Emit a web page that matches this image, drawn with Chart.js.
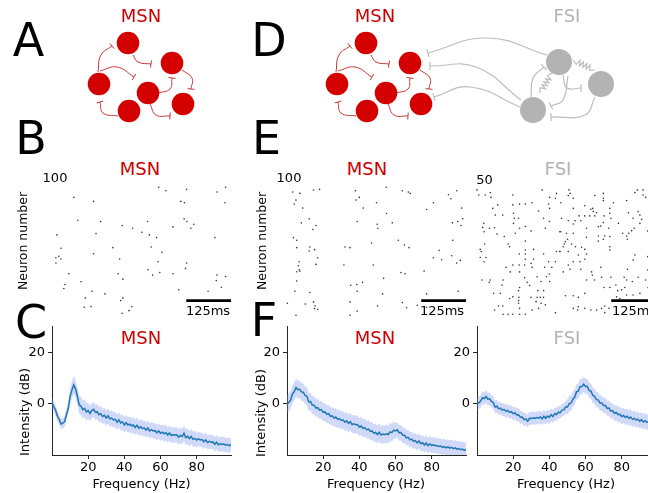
<!DOCTYPE html>
<html><head><meta charset="utf-8">
<script src="https://cdn.jsdelivr.net/npm/chart.js@4.4.1/dist/chart.umd.min.js"></script>
<style>
html,body{margin:0;padding:0;background:#fff;}
#fig{position:relative;width:648px;height:493px;overflow:hidden;font-family:'DejaVu Sans',sans-serif;background:#fff;}
#fig canvas{position:absolute;}
.t{position:absolute;white-space:nowrap;line-height:1;transform:translate(-50%,-50%);}
.tl{position:absolute;white-space:nowrap;line-height:1;transform:translate(0,-50%);}
</style></head><body><div id="fig"></div>
<script>
// ---------------- DATA ----------------
const freqHz = [0,1,2,3,4,5,6,7,8,9,10,11,12,13,14,15,16,17,18,19,20,21,22,23,24,25,26,27,28,29,30,31,32,33,34,35,36,37,38,39,40,41,42,43,44,45,46,47,48,49,50,51,52,53,54,55,56,57,58,59,60,61,62,63,64,65,66,67,68,69,70,71,72,73,74,75,76,77,78,79,80,81,82,83,84,85,86,87,88,89,90,91,92,93,94,95,96,97,98,99];
const freqTicks = [20,40,60,80];
const dbTicks = [0,20];

// panel C: MSN alone (dB)
const psdMsnAlone = [
0.5,-1.2,-2.6,-4.9,-6.1,-7.9,-7.6,-7.0,-4.2,-1.8,
2.9,5.3,7.4,5.8,3.1,-0.4,-0.9,-2.3,-1.8,-3.2,
-2.7,-3.8,-2.7,-2.2,-3.3,-3.2,-4.3,-3.9,-5.0,-4.5,
-5.6,-4.7,-5.9,-5.6,-6.3,-6.1,-7.2,-6.3,-7.5,-7.1,
-8.3,-7.4,-8.3,-8.0,-8.6,-8.3,-9.3,-8.4,-9.5,-9.0,
-9.7,-9.4,-10.3,-9.5,-10.6,-10.1,-10.6,-10.5,-11.3,-10.6,
-11.5,-11.1,-11.7,-11.3,-12.2,-11.4,-12.4,-12.0,-12.3,-12.1,
-13.0,-12.4,-12.8,-11.5,-13.2,-12.7,-13.6,-12.8,-13.9,-13.5,
-14.2,-13.7,-14.1,-14.0,-14.9,-14.1,-15.1,-14.7,-15.0,-14.9,
-15.8,-15.0,-16.0,-15.6,-15.9,-15.7,-16.1,-15.9,-16.4,-15.8];
const sdMsnAlone = [2.0,3.5,3.0,3.0,3.0,3.0,3.0,3.0,2.8,2.8];   // per 10 Hz bin

// panel F: MSN with FSI (dB)
const psdMsnNet = [
-0.2,0.5,1.5,3.8,4.7,6.3,5.5,5.6,4.6,4.5,
3.2,2.9,0.7,0.9,-0.5,-0.6,-1.7,-1.5,-2.5,-2.3,
-3.3,-3.2,-4.1,-3.9,-4.9,-4.7,-5.6,-5.2,-6.1,-5.8,
-6.5,-6.3,-7.2,-6.7,-7.7,-7.0,-8.1,-7.8,-8.2,-8.1,
-9.1,-8.7,-9.6,-9.3,-10.2,-9.8,-10.7,-10.6,-11.5,-11.2,
-12.0,-11.1,-12.2,-11.8,-12.1,-11.7,-12.0,-11.0,-11.3,-10.3,
-10.6,-10.2,-11.3,-11.2,-12.3,-12.3,-13.3,-13.1,-14.1,-13.8,
-14.7,-14.4,-15.3,-14.5,-15.6,-15.2,-16.1,-15.3,-16.4,-15.6,
-16.3,-16.0,-16.4,-16.3,-16.7,-16.5,-17.0,-16.7,-17.2,-16.8,
-17.3,-17.0,-17.5,-17.2,-17.7,-17.5,-17.9,-17.7,-18.2,-17.8];
const sdMsnNet = [3.5,3.5,3.5,3.5,3.5,3.5,3.0,3.0,3.0,3.0];

// panel F: FSI (dB)
const psdFsiNet = [
-0.1,0.3,1.0,2.3,2.0,2.8,1.8,1.9,0.9,0.5,
-1.3,-1.0,-2.0,-1.7,-2.5,-2.2,-3.0,-2.6,-3.4,-3.1,
-3.9,-3.6,-4.4,-4.3,-5.3,-5.2,-6.2,-5.9,-6.8,-5.7,
-5.8,-5.5,-5.7,-5.4,-5.6,-5.2,-5.9,-4.9,-5.7,-4.8,
-5.3,-4.3,-5.0,-3.9,-4.2,-3.3,-3.5,-2.5,-2.4,-1.3,
-1.3,0.0,0.2,1.8,2.5,4.6,4.9,6.6,6.7,7.6,
6.7,6.8,5.2,4.9,3.3,2.9,1.6,1.5,0.3,0.3,
-0.7,-0.7,-1.8,-1.7,-2.9,-2.7,-3.7,-3.4,-4.3,-4.1,
-5.0,-4.6,-5.3,-4.9,-5.7,-5.2,-6.1,-5.7,-6.4,-6.0,
-6.8,-6.3,-7.1,-6.6,-7.3,-6.9,-7.4,-7.0,-7.5,-7.1];
const sdFsiNet = [2.5,2.5,2.5,2.5,2.5,3.0,3.0,3.0,3.0,3.0];

// rasters: [time ms, neuron index]
const spikesMsnAlone = [
[298,97.5],[318,95],[376,96],[485,97.5],[461,94],[61,90],[116,87],[360,87],[370,86],[483,86],
[72,73],[136,72],[196,69],[225,67],[267,72],[251,64],[272,62],[292,60],[369,74],[377,72],
[396,70],[388,67],[338,68],[455,60],[14,62],[123,63],[25,52],[170,52.5],[277,53],[307,49],
[11,45],[19,46],[25,44],[11,41],[116,48],[189,44],[296,42],[376,41],[373,37],[268,36],
[281,32],[301,34],[338,33],[47,33],[185,33],[198,29],[81,27],[36,25],[33,22],[112,20],
[148,18],[93,15],[198,15],[192,13],[90,8],[109,8.5],[223,8.5],[215,5.5],[196,3.5],[354,21],
[436,20],[461,32],[485,31],[459,28],[473,23]];
const spikesMsnNet = [
[16,94],[36,93],[74,95.5],[91,96],[25,88],[20,85],[44,82],[191,95],[202,90],[193,88],
[213,82],[250,86],[277,97.5],[322,95],[339,94],[344,93],[278,78],[390,81],[409,86],[451,92],
[458,89],[474,95],[488,82],[62,74],[40,71],[81,69],[72,66],[196,72],[252,70],[254,67],
[294,71],[462,71],[477,72],[491,74],[486,69],[18,60],[27,58],[27,52.5],[64,53],[77,51],
[62,50],[162,53],[176,52.5],[236,56],[311,58],[328,54.5],[341,52.5],[463,58],[425,50.5],[460,46.5],
[409,45],[432,43.5],[484,43],[474,41],[86,45],[81,40],[34,42],[32,39],[34,36],[27,34.5],
[36,35],[159,39.5],[241,39.5],[318,34],[330,33],[383,35],[27,27.6],[22,20],[64,19],[1,11],
[51,10.5],[74,12],[79,9],[86,6.5],[77,7],[25,2],[178,24.4],[195,25],[211,26.6],[270,29.6],
[196,20],[267,18],[176,12],[196,5],[176,2],[253,9],[322,11.5],[334,7.7],[390,18],[478,20],
[364,9.5],[390,8],[480,7.5]];
const spikesFsiNet = [
[0,47.8],[5,45.9],[23,45.9],[37,46.8],[39,45.0],[100,45.9],[182,47.8],[203,45.0],[222,46.5],[219,44.7],
[58,42.2],[44,40.9],[100,42.2],[119,42.5],[135,42.5],[154,43.0],[200,42.5],[203,40.9],[172,39.9],[51,38.4],
[72,38.4],[102,39.1],[104,37.2],[116,37.2],[186,37.2],[202,36.0],[19,35.3],[16,33.8],[35,33.5],[49,33.7],
[20,32.2],[102,35.3],[119,33.5],[135,34.1],[151,32.5],[191,33.5],[231,32.2],[56,31.3],[76,30.4],[107,31.6],
[21,27.6],[87,27.6],[91,26.6],[135,28.7],[9,25.6],[12,24.8],[158,25.6],[135,25.4],[222,24.8],[231,24.8],
[186,23.9],[118,23.9],[135,23.9],[9,22.6],[25,22.6],[20,21.0],[135,21.9],[158,21.9],[151,20.4],[200,21.0],
[219,21.0],[100,19.8],[118,19.8],[133,19.8],[81,18.9],[154,18.9],[189,18.9],[209,18.9],[93,17.2],[119,17.2],
[202,16.4],[194,15.4],[133,15.0],[168,15.4],[14,14.2],[37,14.2],[34,13.3],[73,14.2],[179,13.6],[203,13.6],
[140,13.3],[70,12.3],[147,12.1],[119,11.4],[116,10.2],[46,9.2],[65,9.2],[170,10.2],[186,10.2],[100,7.9],
[91,7.3],[117,7.7],[151,7.7],[168,7.7],[177,7.7],[186,7.7],[116,6.5],[116,5.5],[165,6.1],[179,5.5],
[191,4.9],[60,4.5],[72,4.5],[49,3.0],[119,3.6],[154,3.0],[172,3.6],[73,1.4],[87,1.4],[100,1.4],
[119,1.4],[135,1.4],[219,2.0],
[257,47.8],[260,46.5],[255,45.7],[269,44.7],[329,45.7],[353,46.5],[353,44.7],[353,43.8],[418,43.8],[441,46.8],
[448,47.8],[464,47.8],[464,45.9],[471,45.0],[234,43.0],[301,41.9],[269,40.9],[318,40.6],[325,39.7],[323,40.9],
[334,39.3],[371,40.9],[371,39.1],[381,43.0],[423,39.3],[450,39.7],[455,38.4],[285,38.1],[301,38.1],[315,38.1],
[355,38.1],[374,37.2],[436,37.2],[329,38.1],[236,37.2],[255,36.3],[274,36.3],[290,36.3],[269,35.1],[353,35.6],
[346,34.3],[395,35.3],[455,35.3],[460,36.8],[306,33.5],[339,34.1],[368,33.5],[439,33.5],[424,31.6],[477,32.5],
[234,32.2],[250,31.6],[269,31.6],[306,30.1],[339,30.6],[357,30.6],[371,30.4],[407,31.6],[418,30.6],[420,29.4],
[432,32.6],[253,29.4],[247,28.5],[244,27.6],[241,26.6],[264,27.6],[275,26.6],[292,26.4],[255,24.8],[339,28.7],
[353,29.4],[371,26.6],[371,25.4],[232,24.8],[283,23.5],[301,25.6],[306,23.9],[441,23.5],[436,21.6],[477,22.9],
[269,21.0],[288,21.0],[301,21.9],[255,19.8],[260,18.2],[241,17.2],[290,18.2],[346,18.9],[320,17.2],[322,16.0],
[420,18.2],[477,17.9],[306,14.2],[328,14.2],[348,15.2],[374,15.2],[411,15.2],[418,14.2],[434,13.6],[450,15.2],
[471,14.2],[355,11.4],[371,11.4],[388,12.3],[393,10.2],[404,10.5],[413,11.4],[478,11.4],[247,8.3],[269,8.3],
[283,7.7],[301,9.2],[390,7.9],[399,7.3],[418,8.6],[436,8.6],[455,9.2],[269,3.6],[283,4.2],[281,3.0],
[301,3.6],[318,3.0],[334,3.0],[348,3.6],[357,4.5],[357,2.0],[369,3.6]];
const rasterMs = [0,500];
const scaleBarMs = [375,500];
const msnCount = 100, fsiCount = 50;

// network diagrams (diagram space)
const msnNodes = [[128,43],[172,63],[99,84],[148,93],[183,104],[129,111]];
const msnArcs = [
 [[98,72],[101,55],[112,46]],
 [[133,55],[138,62],[151,64]],
 [[100,71],[117,67],[134,77]],
 [[158,93],[170,89],[172,78]],
 [[182,70],[192,78],[191,89]],
 [[118,116],[103,113],[100,102]],
 [[150,104],[156,115],[170,116]]];
const netShiftD = 238;
const fsiNodes = [[559,62],[601,84],[533,110]];
const fsiArcs = [
 [[547,55],[487,38],[428,53]],
 [[521,100],[476,67],[430,66]],
 [[520,107],[470,87],[434,97]],
 [[531,97],[533,78],[544,67]],
 [[563,75],[567,88],[581,88]],
 [[568,76],[563,100],[551,106]],
 [[595,97],[585,115],[551,117]]];
const gapJunctions = [[[573,60],[595,70]],[[552,73],[540,93]]];

// ---------------- STYLE ----------------
const RED = '#d40000', RED_T = '#cc0000', RED_ARC = '#c83737';
const GRAY = '#b3b3b3', GRAY_ARC = '#bdbdbd';
const BLUE = '#1f77b4', BAND = 'rgba(120,150,235,0.35)';
const fig = document.getElementById('fig');
Chart.defaults.font.family = "'DejaVu Sans', sans-serif";

function text(str, x, y, size, color, opts={}) {
  const d = document.createElement('div');
  d.className = opts.left ? 'tl' : 't';
  d.textContent = str;
  d.style.left = x + 'px'; d.style.top = y + 'px';
  d.style.fontSize = size + 'px'; d.style.color = color || '#000';
  if (opts.rot) d.style.transform = 'translate(-50%,-50%) rotate(-90deg)';
  fig.appendChild(d);
}
function makeCanvas(left, top, w, h) {
  const c = document.createElement('canvas');
  c.width = w; c.height = h;
  c.style.left = left + 'px'; c.style.top = top + 'px';
  c.style.width = w + 'px'; c.style.height = h + 'px';
  fig.appendChild(c);
  return c;
}
const baseOpts = {responsive:false, animation:false, events:[], devicePixelRatio:1,
  plugins:{legend:{display:false}, tooltip:{enabled:false}}};

// ---------------- NETWORK DIAGRAMS ----------------
(function(){
  const cv = makeCanvas(0, 0, 648, 132);
  const ds = [];
  const P = a => ({x:a[0], y:a[1]});
  function arc(path, color, w, half, dx) {
    const pts = path.map(p => ({x:p[0]+dx, y:p[1]}));
    ds.push({data:pts, showLine:true, tension:0.45, borderColor:color, borderWidth:w, pointRadius:0, order:2, clip:false});
    const a = pts[pts.length-2], b = pts[pts.length-1];
    const L = Math.hypot(b.x-a.x, b.y-a.y), px = -(b.y-a.y)/L*half, py = (b.x-a.x)/L*half;
    ds.push({data:[{x:b.x+px,y:b.y+py},{x:b.x-px,y:b.y-py}], showLine:true, tension:0, borderColor:color, borderWidth:w, pointRadius:0, order:2, clip:false});
  }
  function spring(p, q, n, amp) {
    const dx=q[0]-p[0], dy=q[1]-p[1], L=Math.hypot(dx,dy), nx=-dy/L, ny=dx/L;
    const pts=[{x:p[0],y:p[1]}];
    for (let i=1;i<2*n;i++){ const t=0.12+0.76*i/(2*n); const s=(i%2?amp:-amp); pts.push({x:p[0]+dx*t+nx*s, y:p[1]+dy*t+ny*s}); }
    pts.push({x:q[0],y:q[1]});
    ds.push({data:pts, showLine:true, tension:0, borderColor:GRAY_ARC, borderWidth:1.2, pointRadius:0, order:2, clip:false});
  }
  msnArcs.forEach(a => arc(a, RED_ARC, 1, 3.5, 0));
  msnArcs.forEach(a => arc(a, RED_ARC, 1, 3.5, netShiftD));
  fsiArcs.forEach(a => arc(a, GRAY_ARC, 1.2, 4, 0));
  gapJunctions.forEach(g => spring(g[0], g[1], 5, 2.6));
  ds.push({data:msnNodes.map(P), pointRadius:11.3, backgroundColor:RED, borderWidth:0, order:0, clip:false});
  ds.push({data:msnNodes.map(p=>({x:p[0]+netShiftD,y:p[1]})), pointRadius:11.3, backgroundColor:RED, borderWidth:0, order:0, clip:false});
  ds.push({data:fsiNodes.map(P), pointRadius:13, backgroundColor:GRAY, borderWidth:0, order:0, clip:false});
  new Chart(cv, {type:'scatter', data:{datasets:ds}, options:{...baseOpts, layout:{padding:0, autoPadding:false},
    scales:{x:{type:'linear', min:0, max:648, display:false}, y:{type:'linear', min:0, max:132, reverse:true, display:false}}}});
})();

// ---------------- RASTERS ----------------
function raster(plotLeft, spikes, nMax, barN) {
  const pad = 3, W = 179, H = 134, top = 184;
  const cv = makeCanvas(plotLeft - pad, top - pad, W + 2*pad, H + 2*pad);
  new Chart(cv, {type:'scatter', data:{datasets:[
    {data:spikes.map(s=>({x:s[0], y:s[1]})), pointRadius:0.8, backgroundColor:'#333', borderWidth:0, clip:false},
    {data:scaleBarMs.map(t=>({x:t, y:barN})), showLine:true, borderColor:'#000', borderWidth:2.8, pointRadius:0, clip:false}
  ]}, options:{...baseOpts, layout:{padding:pad, autoPadding:false},
    scales:{x:{type:'linear', min:rasterMs[0], max:rasterMs[1], display:false}, y:{type:'linear', min:0, max:nMax, display:false}}}});
}
raster(52, spikesMsnAlone, msnCount, 12.9);
raster(287, spikesMsnNet, msnCount, 12.9);
raster(477, spikesFsiNet, fsiCount, 6.45);

// ---------------- SPECTRA ----------------
function spectrum(plotLeft, mean, sd) {
  const W = 52 + 179 + 9, H = 165, top = 326 - 10;
  const cv = makeCanvas(plotLeft - 52, top, W, H);
  const line = freqHz.map((f,i)=>({x:f, y:mean[i]}));
  const up = freqHz.map((f,i)=>({x:f, y:mean[i] + sd[Math.floor(f/10)]}));
  const lo = freqHz.map((f,i)=>({x:f, y:mean[i] - sd[Math.floor(f/10)]}));
  const axisCol = '#262626';
  const common = {grid:{display:true, drawOnChartArea:false, drawTicks:true, tickLength:4, color:axisCol, lineWidth:1},
                  border:{display:true, color:axisCol, width:1}};
  new Chart(cv, {type:'scatter', data:{datasets:[
    {data:up, showLine:true, pointRadius:0, borderColor:'rgba(0,0,0,0)', borderWidth:0, fill:'+1', backgroundColor:BAND, tension:0, order:2},
    {data:lo, showLine:true, pointRadius:0, borderColor:'rgba(0,0,0,0)', borderWidth:0, fill:false, tension:0, order:2},
    {data:line, showLine:true, pointRadius:0, borderColor:BLUE, borderWidth:1.5, tension:0, order:1}
  ]}, options:{...baseOpts, layout:{padding:{left:0, right:9, top:10, bottom:0}, autoPadding:false},
    scales:{
      x:{type:'linear', min:0, max:99, ...common,
         afterBuildTicks:s=>{s.ticks = freqTicks.map(v=>({value:v}));},
         afterFit:s=>{s.height = 26;},
         ticks:{color:'#000', font:{size:13}, padding:1, maxRotation:0, autoSkip:false}},
      y:{type:'linear', min:-20, max:30, ...common,
         afterBuildTicks:s=>{s.ticks = dbTicks.map(v=>({value:v}));},
         afterFit:s=>{s.width = 52;},
         ticks:{color:'#000', font:{size:13}, padding:3}}
    }}});
}
spectrum(52, psdMsnAlone, sdMsnAlone);
spectrum(287, psdMsnNet, sdMsnNet);
spectrum(477, psdFsiNet, sdFsiNet);

// ---------------- TEXT ----------------
text('A', 28.5, 40, 46); text('D', 269, 40, 46);
text('B', 31, 138, 46); text('E', 266.5, 138, 46);
text('C', 31, 322, 46); text('F', 264, 320, 46);
text('MSN', 141, 16, 18, RED_T); text('MSN', 375, 16, 18, RED_T); text('FSI', 567, 16, 18, GRAY);
text('MSN', 140, 169, 18, RED_T); text('MSN', 367, 169, 18, RED_T); text('FSI', 558, 169, 18, GRAY);
text('MSN', 141, 338, 18, RED_T); text('MSN', 375, 338, 18, RED_T); text('FSI', 567, 338, 18, GRAY);
text('100', 55, 177, 13); text('100', 289, 177, 13); text('50', 484.5, 179, 13);
text('Neuron number', 23, 241, 12.5, '#000', {rot:true}); text('Neuron number', 262, 241, 12.5, '#000', {rot:true});
text('125ms', 208, 310, 13); text('125ms', 442, 310, 13); text('125ms', 612, 310, 13, '#000', {left:true});
text('Intensity (dB)', 24, 412, 13, '#000', {rot:true}); text('Intensity (dB)', 260, 413, 13, '#000', {rot:true});
text('Frequency (Hz)', 141.5, 483, 13); text('Frequency (Hz)', 376, 483, 13); text('Frequency (Hz)', 566, 483, 13);
</script></body></html>
